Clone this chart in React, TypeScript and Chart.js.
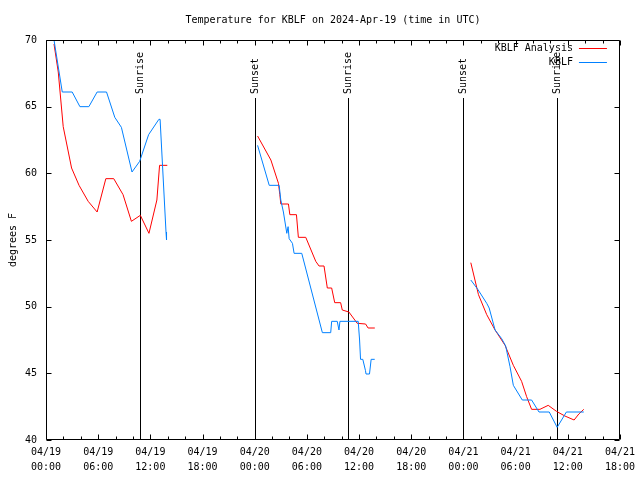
import { useEffect, useRef } from "react";
import { Chart, registerables } from "chart.js";

Chart.register(...registerables);

const TITLE = "Temperature for KBLF on 2024-Apr-19 (time in UTC)";
const Y_TITLE = "degrees F";
const FONT = "'DejaVu Sans Mono', 'Liberation Mono', monospace";

// x values: hours since 04/19 00:00 UTC
const X_MIN = 0;
const X_MAX = 66;
const X_LABEL_STEP = 6;
const X_MINOR_STEP = 2;
const DAY_LABELS = ["04/19", "04/20", "04/21", "04/22"];
const HOUR_LABELS = ["00:00", "06:00", "12:00", "18:00"];
const Y_MIN = 40;
const Y_MAX = 70;
const Y_STEP = 5;

const SERIES_NAMES = ["KBLF Analysis", "KBLF"];
const SERIES_COLORS = ["#ff0000", "#0080ff"];

// KBLF Analysis (null = gap)
const analysisHours = [
  0.92, 1.41, 1.98, 2.94, 3.8, 4.85, 5.88, 6.88, 7.79, 8.86, 9.82, 10.85, 11.84, 12.75, 13.06, 13.95,
  20,
  24.33, 25.86, 26.73, 26.89, 27.0, 27.88, 28.04, 28.8, 29.02, 29.87, 31.02, 31.4, 31.97, 32.35, 32.85,
  33.2, 33.88, 34.07, 34.83, 35.79, 36.75, 37.04, 37.81,
  44,
  48.85, 49.73, 50.68, 51.64, 52.79, 53.74, 54.69, 55.27, 55.84, 56.8, 57.75, 58.7, 59.67, 60.73, 61.27, 61.84,
];
const analysisTemps = [
  69.7, 67.6, 63.5, 60.4, 59.1, 57.9, 57.1, 59.6, 59.6, 58.4, 56.4, 56.85, 55.5, 58.0, 60.6, 60.6,
  null,
  62.8, 61.0, 59.25, 58.4, 57.7, 57.7, 56.9, 56.9, 55.2, 55.2, 53.4, 53.05, 53.05, 51.4, 51.4,
  50.3, 50.3, 49.75, 49.6, 48.75, 48.7, 48.4, 48.4,
  null,
  53.3, 50.9, 49.4, 48.25, 47.1, 45.6, 44.4, 43.25, 42.3, 42.3, 42.6, 42.15, 41.8, 41.5, 41.95, 42.3,
];

// KBLF observations (null = gap)
const obsHours = [
  0.92, 1.87, 3.01, 3.9, 4.93, 5.88, 6.96, 7.91, 8.67, 9.89, 10.77, 11.8, 12.98, 13.12, 13.8, 13.86,
  20,
  24.33, 25.67, 26.81, 27.0, 27.3, 27.69, 27.84, 27.96, 28.34, 28.53, 29.41, 31.78, 32.74, 32.85, 33.49,
  33.69, 33.8, 35.9, 36.06, 36.17, 36.43, 36.74, 36.8, 37.2, 37.39, 37.8,
  44,
  48.85, 49.65, 50.68, 50.96, 51.64, 52.4, 52.86, 53.36, 53.74, 54.77, 55.84, 56.69, 57.87, 58.78, 59.84, 61.84,
];
const obsTemps = [
  70.0, 66.1, 66.1, 65.0, 65.0, 66.1, 66.1, 64.2, 63.45, 60.1, 60.9, 62.9, 64.05, 64.05, 55.6, 55.0,
  null,
  62.1, 59.1, 59.1, 58.0, 57.1, 55.5, 56.0, 55.1, 54.75, 54.0, 54.0, 48.05, 48.05, 48.9, 48.9,
  48.25, 48.9, 48.9, 47.5, 46.05, 46.05, 45.2, 44.95, 44.95, 46.05, 46.05,
  null,
  52.0, 51.3, 50.25, 49.9, 48.25, 47.6, 47.05, 45.5, 44.1, 43.0, 43.0, 42.1, 42.1, 40.95, 42.1, 42.1,
];

const sunHours = [10.77, 24.0, 34.77, 47.95, 58.72];
const sunLabels = ["Sunrise", "Sunset", "Sunrise", "Sunset", "Sunrise"];

function toPoints(xs: number[], ys: (number | null)[]) {
  return xs.map((x, i) => ({ x, y: ys[i] }));
}

const framePlugin = {
  id: "gnuframe",
  beforeDatasetsDraw(chart: any) {
    const { ctx, chartArea: a, scales } = chart;
    const xs = scales.x;
    ctx.save();
    ctx.strokeStyle = "#000";
    ctx.lineWidth = 1;
    ctx.fillStyle = "#000";
    ctx.font = `10px ${FONT}`;
    sunHours.forEach((h, i) => {
      const px = Math.round(xs.getPixelForValue(h)) + 0.5;
      ctx.beginPath();
      ctx.moveTo(px, a.top + 58);
      ctx.lineTo(px, a.bottom);
      ctx.stroke();
      ctx.save();
      ctx.translate(px, a.top + 54);
      ctx.rotate(-Math.PI / 2);
      ctx.textAlign = "left";
      ctx.textBaseline = "middle";
      ctx.fillText(sunLabels[i], 0, 0);
      ctx.restore();
    });
    ctx.restore();
  },
  afterDraw(chart: any) {
    const { ctx, chartArea: a, scales } = chart;
    const xs = scales.x;
    const ys = scales.y;
    const L = Math.round(a.left) + 0.5;
    const R = Math.round(a.right) - 0.5;
    const T = Math.round(a.top) + 0.5;
    const B = Math.round(a.bottom) - 0.5;
    ctx.save();
    ctx.strokeStyle = "#000";
    ctx.lineWidth = 1;
    ctx.beginPath();
    ctx.rect(L, T, R - L, B - T);
    for (let h = X_MIN; h <= X_MAX; h += X_MINOR_STEP) {
      const px = Math.round(xs.getPixelForValue(h)) + 0.5;
      const len = h % X_LABEL_STEP === 0 ? 5 : 3;
      ctx.moveTo(px, B);
      ctx.lineTo(px, B - len);
      ctx.moveTo(px, T);
      ctx.lineTo(px, T + len);
    }
    for (let v = Y_MIN; v <= Y_MAX; v += Y_STEP) {
      const py = Math.round(ys.getPixelForValue(v)) + 0.5;
      ctx.moveTo(L, py);
      ctx.lineTo(L + 5, py);
      ctx.moveTo(R, py);
      ctx.lineTo(R - 5, py);
    }
    ctx.stroke();

    // key
    ctx.font = `10px ${FONT}`;
    ctx.textAlign = "right";
    ctx.textBaseline = "middle";
    ctx.fillStyle = "#000";
    SERIES_NAMES.forEach((name, i) => {
      const y = Math.round(a.top) + 8 + i * 14;
      ctx.fillText(name, a.right - 47, y);
      ctx.strokeStyle = SERIES_COLORS[i];
      ctx.beginPath();
      ctx.moveTo(a.right - 41, y + 0.5);
      ctx.lineTo(a.right - 13, y + 0.5);
      ctx.stroke();
    });
    ctx.restore();
  },
};

export default function App() {
  const ref = useRef<HTMLCanvasElement>(null);

  useEffect(() => {
    if (!ref.current) return;
    const chart = new Chart(ref.current, {
      type: "line",
      data: {
        datasets: [
          {
            label: SERIES_NAMES[0],
            data: toPoints(analysisHours, analysisTemps),
            borderColor: SERIES_COLORS[0],
            backgroundColor: SERIES_COLORS[0],
            borderWidth: 1,
            pointRadius: 0,
            tension: 0,
            spanGaps: false,
            order: 1,
          },
          {
            label: SERIES_NAMES[1],
            data: toPoints(obsHours, obsTemps),
            borderColor: SERIES_COLORS[1],
            backgroundColor: SERIES_COLORS[1],
            borderWidth: 1,
            pointRadius: 0,
            tension: 0,
            spanGaps: false,
            order: 0,
          },
        ],
      },
      options: {
        responsive: false,
        animation: false,
        layout: { padding: { left: 0, right: 18, top: 0, bottom: 0 } },
        plugins: {
          legend: { display: false },
          tooltip: { enabled: false },
          title: {
            display: true,
            fullSize: false,
            text: TITLE,
            color: "#000",
            font: { family: FONT, size: 10, weight: "normal", lineHeight: 1.2 },
            padding: { top: 14, bottom: 14 },
          },
        },
        scales: {
          x: {
            type: "linear",
            min: X_MIN,
            max: X_MAX,
            grid: { display: false, drawTicks: false },
            border: { display: false },
            ticks: {
              stepSize: X_LABEL_STEP,
              autoSkip: false,
              maxRotation: 0,
              minRotation: 0,
              padding: 5,
              color: "#000",
              font: { family: FONT, size: 10, lineHeight: 1.5 },
              callback: (v: any) => {
                const n = Number(v);
                return [DAY_LABELS[Math.floor(n / 24)], HOUR_LABELS[Math.round((n % 24) / 6)]];
              },
            },
            afterFit: (s: any) => {
              s.height = 40;
            },
          },
          y: {
            min: Y_MIN,
            max: Y_MAX,
            grid: { display: false, drawTicks: false },
            border: { display: false },
            ticks: {
              stepSize: Y_STEP,
              padding: 9,
              color: "#000",
              font: { family: FONT, size: 10 },
            },
            title: {
              display: true,
              text: Y_TITLE,
              color: "#000",
              font: { family: FONT, size: 10 },
              padding: { top: 7, bottom: 0 },
            },
            afterFit: (s: any) => {
              s.width = 46;
            },
          },
        },
      },
      plugins: [framePlugin],
    });
    return () => chart.destroy();
  }, []);

  return (
    <div style={{ position: "absolute", left: 0, top: 0, width: 640, height: 480, background: "#fff" }}>
      <canvas ref={ref} width={640} height={480} style={{ display: "block" }} />
    </div>
  );
}
